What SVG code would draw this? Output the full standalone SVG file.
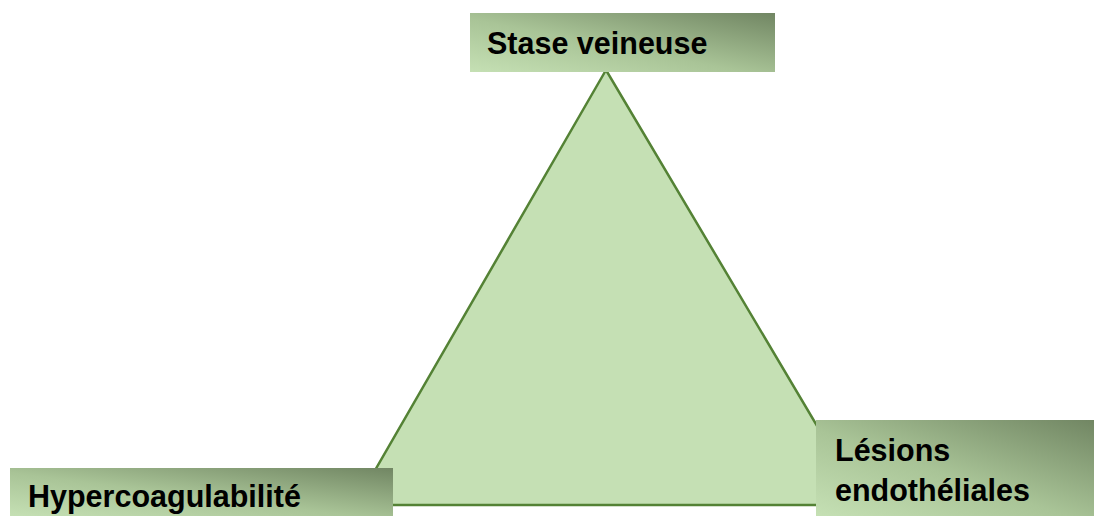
<svg xmlns="http://www.w3.org/2000/svg" width="1094" height="516" viewBox="0 0 1094 516">
<defs>
<linearGradient id="g" x1="0" y1="1" x2="1" y2="0">
<stop offset="0" stop-color="#c5e0b4"/>
<stop offset="0.45" stop-color="#a9c497"/>
<stop offset="1" stop-color="#718663"/>
</linearGradient>
<style>
.lbl{font-family:"Liberation Sans",Arial,sans-serif;font-weight:bold;font-size:30.5px;fill:#000000}
.box{fill:url(#g)}
</style>
</defs>
<rect width="1094" height="516" fill="#ffffff"/>
<g id="connectors">
<polygon points="606,70 355,505 864,505" fill="#c5e0b4" stroke="#548235" stroke-width="2.5" stroke-linejoin="miter"/>
</g>
<g id="stase">
<rect class="box" x="470" y="13" width="305" height="59"/>
<text class="lbl" x="487" y="54">Stase veineuse</text>
</g>
<g id="hyper">
<rect class="box" x="10" y="468" width="383" height="48"/>
<text class="lbl" x="28" y="507">Hypercoagulabilité</text>
</g>
<g id="lesions">
<rect class="box" x="816" y="420" width="278" height="96"/>
<text class="lbl" x="835" y="461">Lésions</text>
<text class="lbl" x="835" y="501">endothéliales</text>
</g>
</svg>
